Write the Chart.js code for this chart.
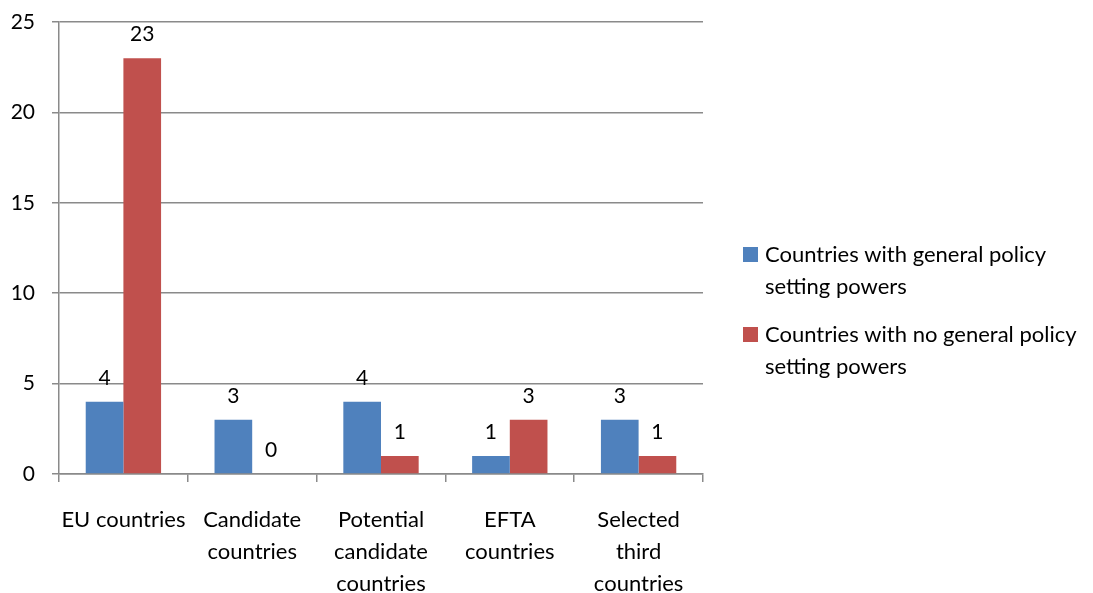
<!DOCTYPE html>
<html>
<head>
<meta charset="utf-8">
<script src="https://cdn.jsdelivr.net/npm/chart.js@4.4.0/dist/chart.umd.min.js"></script>
<style>
  html, body { margin: 0; padding: 0; background: #fff; }
  #wrap { width: 1093px; height: 593px; position: relative; }
</style>
</head>
<body>
<div id="wrap"><canvas id="chart"></canvas></div>
<script>
const categories = [
    ['EU countries'],
    ['Candidate', 'countries'],
    ['Potential', 'candidate', 'countries'],
    ['EFTA', 'countries'],
    ['Selected', 'third', 'countries']
];
const withPowers = [4, 3, 4, 1, 3];
const withoutPowers = [23, 0, 1, 3, 1];
const seriesLabels = [
    ['Countries with general policy', 'setting powers'],
    ['Countries with no general policy', 'setting powers']
];
const seriesColors = ['#4F81BD', '#C0504D'];
const yTicks = { min: 0, max: 25, step: 5 };

const FONT = 'Lato, "Open Sans", sans-serif';
const gridGray = '#8a8a8a';

// value labels above each bar
const valueLabels = {
    id: 'valueLabels',
    afterDatasetsDraw(chart) {
        const { ctx } = chart;
        ctx.save();
        ctx.font = '21px ' + FONT;
        ctx.fillStyle = '#000';
        ctx.textAlign = 'center';
        ctx.textBaseline = 'alphabetic';
        chart.data.datasets.forEach((ds, i) => {
            chart.getDatasetMeta(i).data.forEach((bar, j) => {
                ctx.fillText(String(ds.data[j]), bar.x, bar.y - 17);
            });
        });
        ctx.restore();
    }
};

// legend on the right with wrapped labels
const sideLegend = {
    id: 'sideLegend',
    afterDraw(chart) {
        const { ctx, chartArea } = chart;
        const x = chartArea.right + 40;
        let y = 255;
        ctx.save();
        ctx.font = '22px ' + FONT;
        ctx.textBaseline = 'middle';
        ctx.textAlign = 'left';
        chart.data.datasets.forEach(ds => {
            ctx.fillStyle = ds.backgroundColor;
            ctx.fillRect(x, y - 8, 15, 15);
            ctx.fillStyle = '#000';
            ds.label.forEach((line, k) => {
                ctx.fillText(line, x + 22, y + k * 32);
            });
            y += 80;
        });
        ctx.restore();
    }
};

new Chart(document.getElementById('chart'), {
    type: 'bar',
    data: {
        labels: categories,
        datasets: [
            { label: seriesLabels[0], data: withPowers, backgroundColor: seriesColors[0] },
            { label: seriesLabels[1], data: withoutPowers, backgroundColor: seriesColors[1] }
        ]
    },
    options: {
        responsive: true,
        maintainAspectRatio: false,
        animation: false,
        layout: { padding: { top: 22, right: 390, left: 0, bottom: 0 } },
        datasets: { bar: { barPercentage: 1, categoryPercentage: 0.585 } },
        plugins: {
            legend: { display: false },
            tooltip: { enabled: false }
        },
        scales: {
            x: {
                grid: { drawOnChartArea: false, drawTicks: true, tickLength: 8, color: gridGray, lineWidth: 1.5 },
                border: { display: true, color: gridGray, width: 1.5 },
                ticks: {
                    color: '#000',
                    font: { family: FONT, size: 22, lineHeight: 1.45 },
                    padding: 22,
                    maxRotation: 0,
                    autoSkip: false
                },
                afterFit(scale) {
                    scale.height = 119;
                    scale.paddingLeft = 0;
                    scale.paddingRight = 0;
                }
            },
            y: {
                min: yTicks.min,
                max: yTicks.max,
                grid: { color: gridGray, lineWidth: 1.5, tickLength: 7, drawTicks: true },
                border: { display: true, color: gridGray, width: 1.5 },
                ticks: {
                    stepSize: yTicks.step,
                    color: '#000',
                    font: { family: FONT, size: 21 },
                    padding: 17
                },
                afterFit(scale) {
                    scale.width = 59;
                    scale.paddingTop = 0;
                    scale.paddingBottom = 0;
                }
            }
        }
    },
    plugins: [valueLabels, sideLegend]
});
</script>
</body>
</html>
